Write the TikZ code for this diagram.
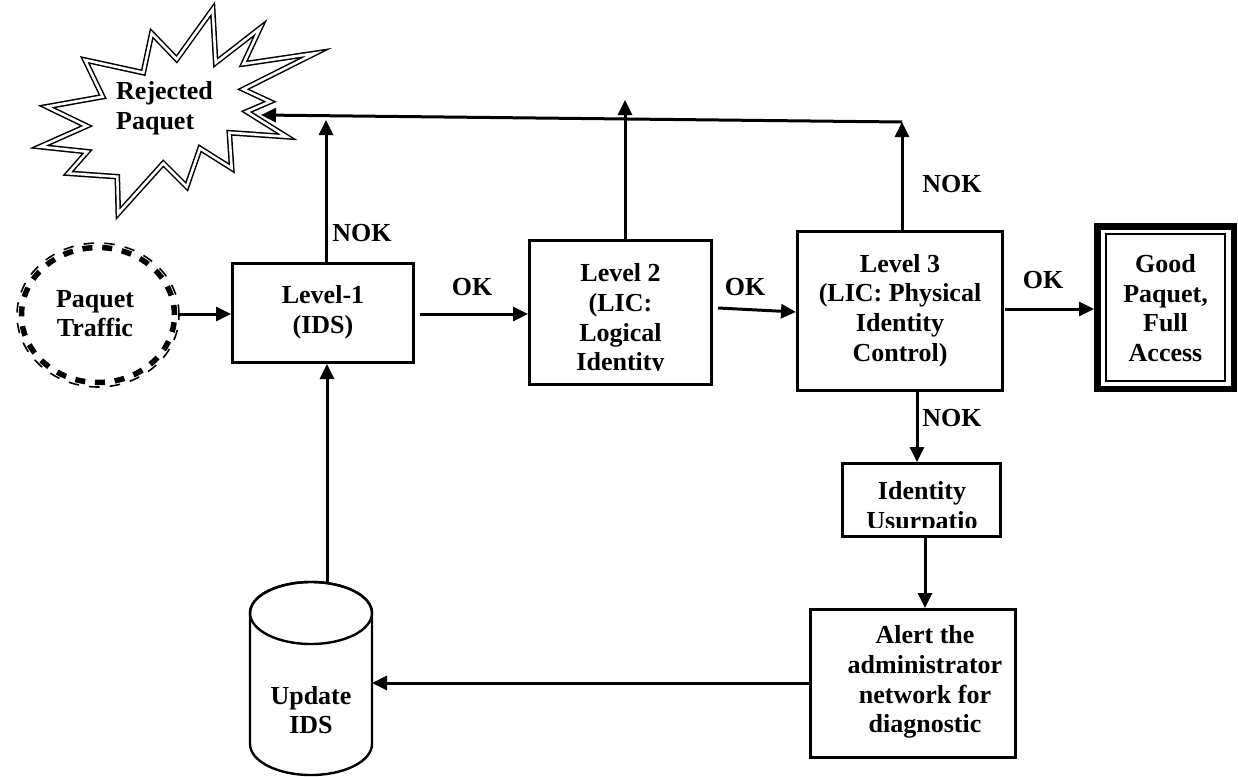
\documentclass[tikz,border=0pt]{standalone}
\usepackage{fontspec}
\setmainfont{Liberation Serif}
\usetikzlibrary{arrows.meta,calc,shapes.geometric}
\begin{document}
\begin{tikzpicture}[x=1pt,y=-1pt,
  txt/.style={font=\fontsize{26}{29.7}\selectfont\bfseries, align=center, inner sep=0pt},
  lbl/.style={font=\fontsize{26}{29.7}\selectfont\bfseries, inner sep=0pt},
  box/.style={draw, line width=3pt, fill=white, inner sep=0pt},
  arr/.style={line width=3pt, -{Triangle[length=15pt,width=14pt]}},
]
\useasboundingbox (0,0) rectangle (1238,776);

% ---------- starburst (Rejected Paquet)
\draw[double, double distance=2.6pt, line width=1.5pt, fill=white]
  (212.7,9.3) -- (215.7,62.7) -- (260,28.3) -- (243.3,64) -- (315,53.3) --
  (243.3,89.3) -- (270,101.7) -- (246.7,111.7) -- (286.7,136.7) --
  (229.3,132.7) -- (231.7,168.3) -- (200,148.3) -- (186.7,186.7) --
  (163.3,163.3) -- (118.3,213.3) -- (117.3,176.7) -- (68.3,173.3) --
  (87.3,151.7) -- (40,146.7) -- (86.7,126) -- (46.7,106.7) --
  (102.7,96.7) -- (85,60) -- (143.3,72.7) -- (151.7,33.3) --
  (176.7,59.3) -- cycle;
\node[txt, align=left, anchor=west] (rej) at (116,108.5) {Rejected\\Paquet};
\coordinate (rejtip) at (261,115);

% ---------- Paquet Traffic
\node[ellipse, draw, line width=1.6pt, inner sep=0pt, minimum width=162, minimum height=144,
      dash pattern=on 10.5pt off 10.2pt] (trafo) at (98,315) {};
\node[ellipse, draw, line width=5.5pt, inner sep=0pt, minimum width=153, minimum height=135,
      dash pattern=on 10pt off 9.8pt] (trafi) at (98,315) {};
\node[txt] (traf) at (95,313.5) {Paquet\\Traffic};

% ---------- boxes
\node[box, minimum width=181, minimum height=99] (l1) at (323,313) {};
\node[txt] (l1t) at (323,312.5) {Level-1\\(IDS)};

\node[box, minimum width=182, minimum height=144] (l2) at (620.5,312.5) {};
\begin{scope}
  \clip (530,241) rectangle (711,370.5);
  \node[txt] (l2t) at (620.5,320) {Level 2\\(LIC:\\Logical\\Identity};
\end{scope}

\node[box, minimum width=205, minimum height=159] (l3) at (900,311) {};
\node[txt] (l3t) at (900,310.5) {Level 3\\(LIC: Physical\\Identity\\Control)};

\node[draw, line width=6.5pt, fill=white, inner sep=0pt, minimum width=136.5, minimum height=162.5] (good) at (1165.5,307.5) {};
\draw[line width=1.5pt] ($(good.center)+(-59.5,-73.3)$) rectangle ($(good.center)+(59.5,73.3)$);
\node[txt] (goodt) at (1165.5,308) {Good\\Paquet,\\Full\\Access};

\node[box, minimum width=158, minimum height=73] (idb) at (921.5,500) {};
\begin{scope}
  \clip (843,464) rectangle (1000,527);
  \node[txt] (idt) at (922,508.5) {Identity\\Usurpatio};
\end{scope}

\node[box, minimum width=205, minimum height=148] (alert) at (913,683.5) {};
\node[txt] (alertt) at (925,682) {Alert the\\administrator\\network for\\diagnostic};

% ---------- cylinder (Update IDS)
\draw[line width=2.4pt, fill=white] (250,613) -- (250,744)
  arc[start angle=180, end angle=0, x radius=61, y radius=31] -- (372,613)
  arc[start angle=0, end angle=-180, x radius=61, y radius=31] -- cycle;
\draw[line width=2.4pt] (311,613) ellipse[x radius=61, y radius=31];
\node[txt] (upd) at (311,710) {Update\\IDS};
\coordinate (cylr) at (372,683);
\coordinate (cylt) at (327,583);

% ---------- connectors
\coordinate (r1) at (326,120);
\coordinate (r2) at (625,100);
\coordinate (r3) at (902,122);
\coordinate (c3) at (917,0);
\coordinate (c4) at (925,0);

\draw[arr] (trafo.east |- 0,314) -- (l1.west |- 0,314);
\draw[arr] ($(l1.east)+(5,1)$) -- (l2.west |- 0,314);
\draw[arr] ($(l2.east)+(5,-4.5)$) -- (l3.west |- 0,312);
\draw[arr] ($(l3.east)+(1,-2)$) -- (good.west |- 0,309);

\draw[arr] (l1.north -| r1) -- (r1);
\draw[arr] (l2.north -| r2) -- (r2);
\draw[arr] (l3.north -| r3) -- (r3);
\draw[arr] (r3) -- (rejtip);

\draw[arr] (l3.south -| c3) -- (idb.north -| c3);
\draw[arr] (idb.south -| c4) -- (alert.north -| c4);
\draw[arr] (alert.west |- cylr) -- (cylr);
\draw[arr] (cylt) -- (l1.south -| cylt);

% ---------- labels
\node[lbl] (nok1) at (362,233) {NOK};
\node[lbl] (ok1) at (472,287) {OK};
\node[lbl] (ok2) at (745,287) {OK};
\node[lbl] (ok3) at (1043,280) {OK};
\node[lbl] (nok2) at (952,184) {NOK};
\node[lbl] (nok3) at (952,418) {NOK};
\end{tikzpicture}
\end{document}
